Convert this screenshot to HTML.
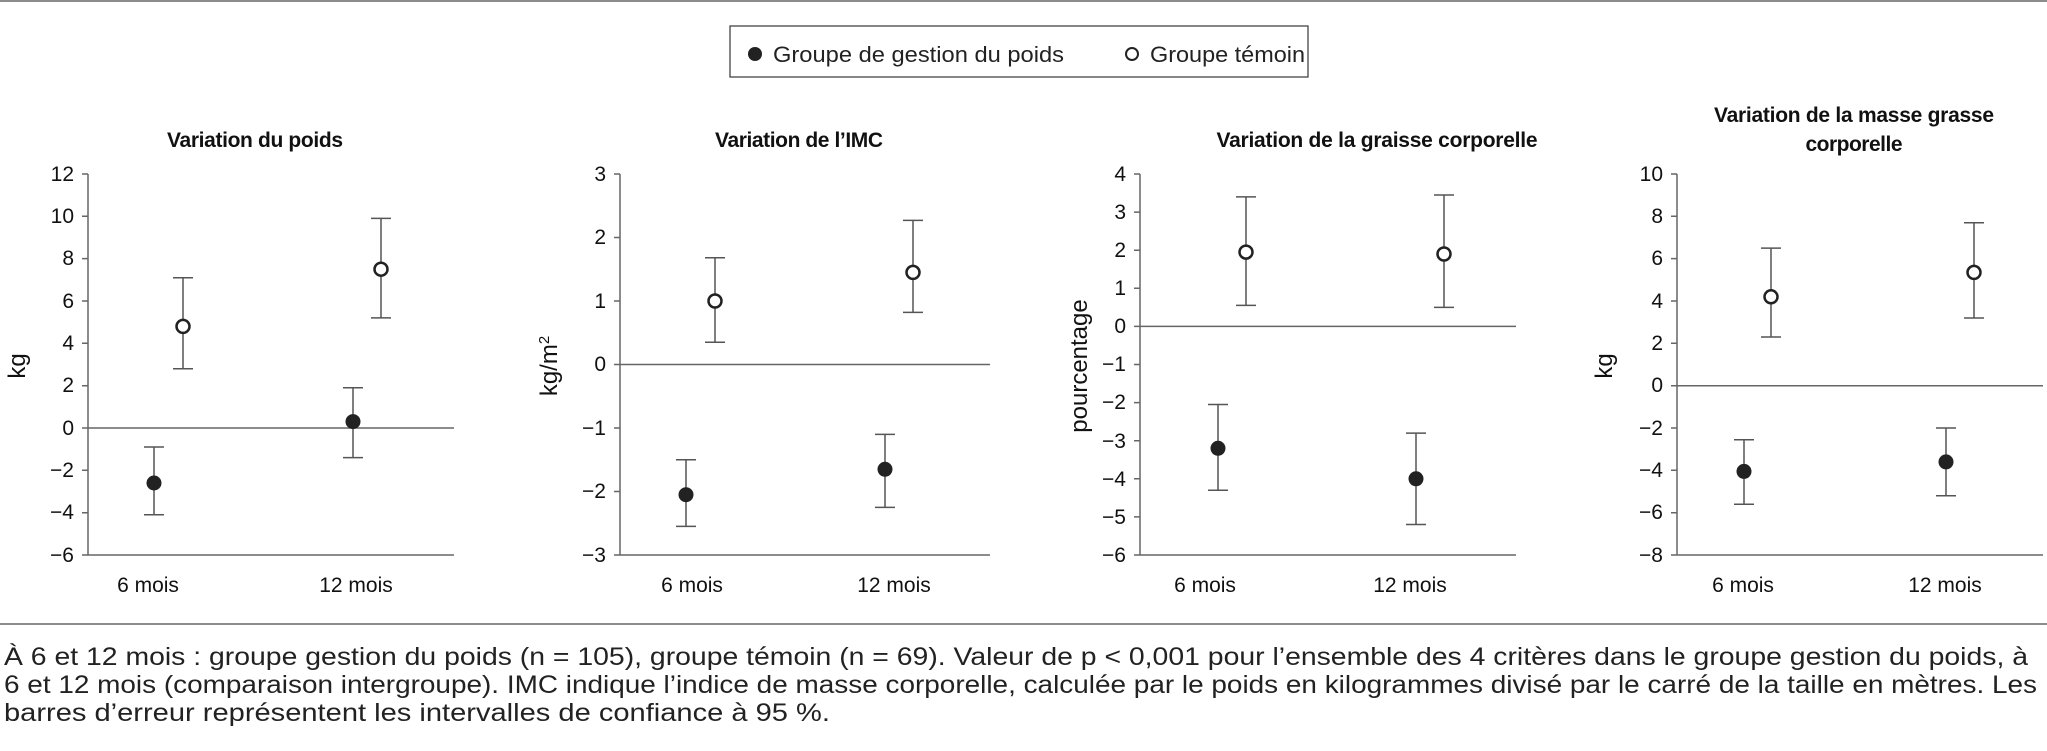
<!DOCTYPE html>
<html><head><meta charset="utf-8"><style>
html,body{margin:0;padding:0;background:#fff;}
svg{display:block;}
.t{font-family:"Liberation Sans Narrow","Liberation Sans",sans-serif;font-weight:bold;font-size:21px;fill:#111;text-anchor:middle;}
.k{font-family:"Liberation Sans",sans-serif;font-size:21px;fill:#111;text-anchor:end;}
.x{font-family:"Liberation Sans",sans-serif;font-size:21px;fill:#111;text-anchor:middle;}
.y{font-family:"Liberation Sans",sans-serif;font-size:24px;fill:#111;text-anchor:middle;}
.c{font-family:"Liberation Sans",sans-serif;font-size:25px;fill:#222;}
.ax{stroke:#666;stroke-width:1.5;fill:none;}
.eb{stroke:#555;stroke-width:1.5;fill:none;}
.f{fill:#222;}
.o{fill:#fff;stroke:#222;stroke-width:2.5;}
</style></head><body>
<svg width="2047" height="751" viewBox="0 0 2047 751" xmlns="http://www.w3.org/2000/svg">
<line x1="0" y1="1" x2="2047" y2="1" stroke="#666" stroke-width="1.5"/>
<!-- legend -->
<rect x="730" y="26" width="578" height="51" fill="#fff" stroke="#444" stroke-width="1.3"/>
<circle cx="755" cy="54" r="7" class="f"/>
<text x="773" y="62" class="c" style="font-size:22px" textLength="291" lengthAdjust="spacingAndGlyphs">Groupe de gestion du poids</text>
<circle cx="1132" cy="54" r="6" class="o" style="stroke-width:2"/>
<text x="1150" y="62" class="c" style="font-size:22px" textLength="155" lengthAdjust="spacingAndGlyphs">Groupe témoin</text>

<!-- Chart 1 -->
<text x="255" y="147" class="t" textLength="176">Variation du poids</text>
<path class="ax" d="M88 174V555H454M82 174H88M82 216.3H88M82 258.6H88M82 301H88M82 343.3H88M82 385.7H88M82 428H88M82 470.3H88M82 512.7H88M82 555H88M88 428H454"/>
<g>
<text x="74" y="181" class="k">12</text><text x="74" y="223" class="k">10</text><text x="74" y="265" class="k">8</text><text x="74" y="308" class="k">6</text><text x="74" y="350" class="k">4</text><text x="74" y="392" class="k">2</text><text x="74" y="435" class="k">0</text><text x="74" y="477" class="k">−2</text><text x="74" y="519" class="k">−4</text><text x="74" y="562" class="k">−6</text>
</g>
<text transform="translate(25,366) rotate(-90)" class="y">kg</text>
<text x="148" y="592" class="x">6 mois</text><text x="356" y="592" class="x">12 mois</text>
<path class="eb" d="M154 514.8V447M144 514.8H164M144 447H164M353 457.6V387.8M343 457.6H363M343 387.8H363M183 368.7V277.7M173 368.7H193M173 277.7H193M381 317.9V218.4M371 317.9H391M371 218.4H391"/>
<circle cx="154" cy="483" r="7.5" class="f"/><circle cx="353" cy="421.6" r="7.5" class="f"/>
<circle cx="183" cy="326.4" r="6.5" class="o"/><circle cx="381" cy="269.2" r="6.5" class="o"/>

<!-- Chart 2 -->
<text x="799" y="147" class="t" textLength="168">Variation de l’IMC</text>
<path class="ax" d="M620 174V555H990M614 174H620M614 237.5H620M614 301H620M614 364.5H620M614 428H620M614 491.5H620M614 555H620M620 364.5H990"/>
<text x="606" y="181" class="k">3</text><text x="606" y="244" class="k">2</text><text x="606" y="308" class="k">1</text><text x="606" y="371" class="k">0</text><text x="606" y="435" class="k">−1</text><text x="606" y="498" class="k">−2</text><text x="606" y="562" class="k">−3</text>
<text transform="translate(557,366) rotate(-90)" class="y">kg/m<tspan dy="-8" style="font-size:15px">2</tspan></text>
<text x="692" y="592" class="x">6 mois</text><text x="894" y="592" class="x">12 mois</text>
<path class="eb" d="M686 526.4V459.8M676 526.4H696M676 459.8H696M885 507.4V434.4M875 507.4H895M875 434.4H895M715 342.3V257.8M705 342.3H725M705 257.8H725M913 312.4V220.4M903 312.4H923M903 220.4H923"/>
<circle cx="686" cy="494.7" r="7.5" class="f"/><circle cx="885" cy="469.3" r="7.5" class="f"/>
<circle cx="715" cy="301" r="6.5" class="o"/><circle cx="913" cy="272.4" r="6.5" class="o"/>

<!-- Chart 3 -->
<text x="1377" y="147" class="t" textLength="321">Variation de la graisse corporelle</text>
<path class="ax" d="M1140 174V555H1516M1134 174H1140M1134 212.1H1140M1134 250.2H1140M1134 288.3H1140M1134 326.4H1140M1134 364.5H1140M1134 402.6H1140M1134 440.7H1140M1134 478.8H1140M1134 516.9H1140M1134 555H1140M1140 326.4H1516"/>
<text x="1126" y="181" class="k">4</text><text x="1126" y="219" class="k">3</text><text x="1126" y="257" class="k">2</text><text x="1126" y="295" class="k">1</text><text x="1126" y="333" class="k">0</text><text x="1126" y="371" class="k">−1</text><text x="1126" y="409" class="k">−2</text><text x="1126" y="448" class="k">−3</text><text x="1126" y="486" class="k">−4</text><text x="1126" y="524" class="k">−5</text><text x="1126" y="562" class="k">−6</text>
<text transform="translate(1087,366) rotate(-90)" class="y">pourcentage</text>
<text x="1205" y="592" class="x">6 mois</text><text x="1410" y="592" class="x">12 mois</text>
<path class="eb" d="M1218 490.2V404.5M1208 490.2H1228M1208 404.5H1228M1416 524.5V433.1M1406 524.5H1426M1406 433.1H1426M1246 305.4V196.9M1236 305.4H1256M1236 196.9H1256M1444 307.4V195M1434 307.4H1454M1434 195H1454"/>
<circle cx="1218" cy="448.3" r="7.5" class="f"/><circle cx="1416" cy="478.8" r="7.5" class="f"/>
<circle cx="1246" cy="252.1" r="6.5" class="o"/><circle cx="1444" cy="254" r="6.5" class="o"/>

<!-- Chart 4 -->
<text x="1854" y="122" class="t" textLength="280">Variation de la masse grasse</text>
<text x="1854" y="151" class="t" textLength="97">corporelle</text>
<path class="ax" d="M1677 174V555H2043M1671 174H1677M1671 216.3H1677M1671 258.6H1677M1671 301H1677M1671 343.3H1677M1671 385.7H1677M1671 428H1677M1671 470.3H1677M1671 512.7H1677M1671 555H1677M1677 385.7H2043"/>
<text x="1663" y="181" class="k">10</text><text x="1663" y="223" class="k">8</text><text x="1663" y="265" class="k">6</text><text x="1663" y="308" class="k">4</text><text x="1663" y="350" class="k">2</text><text x="1663" y="392" class="k">0</text><text x="1663" y="435" class="k">−2</text><text x="1663" y="477" class="k">−4</text><text x="1663" y="519" class="k">−6</text><text x="1663" y="562" class="k">−8</text>
<text transform="translate(1612,366) rotate(-90)" class="y">kg</text>
<text x="1743" y="592" class="x">6 mois</text><text x="1945" y="592" class="x">12 mois</text>
<path class="eb" d="M1744 504.3V439.7M1734 504.3H1754M1734 439.7H1754M1946 495.8V428M1936 495.8H1956M1936 428H1956M1771 337V248.1M1761 337H1781M1761 248.1H1781M1974 318V222.7M1964 318H1984M1964 222.7H1984"/>
<circle cx="1744" cy="471.4" r="7.5" class="f"/><circle cx="1946" cy="461.9" r="7.5" class="f"/>
<circle cx="1771" cy="296.8" r="6.5" class="o"/><circle cx="1974" cy="272.4" r="6.5" class="o"/>

<line x1="0" y1="624" x2="2047" y2="624" stroke="#666" stroke-width="1.5"/>
<text x="4" y="665" class="c" textLength="2024" lengthAdjust="spacingAndGlyphs">À 6 et 12 mois : groupe gestion du poids (n = 105), groupe témoin (n = 69). Valeur de p &lt; 0,001 pour l’ensemble des 4 critères dans le groupe gestion du poids, à</text>
<text x="4" y="693" class="c" textLength="2033" lengthAdjust="spacingAndGlyphs">6 et 12 mois (comparaison intergroupe). IMC indique l’indice de masse corporelle, calculée par le poids en kilogrammes divisé par le carré de la taille en mètres. Les</text>
<text x="4" y="721" class="c" textLength="826" lengthAdjust="spacingAndGlyphs">barres d’erreur représentent les intervalles de confiance à 95 %.</text>
</svg>
</body></html>
